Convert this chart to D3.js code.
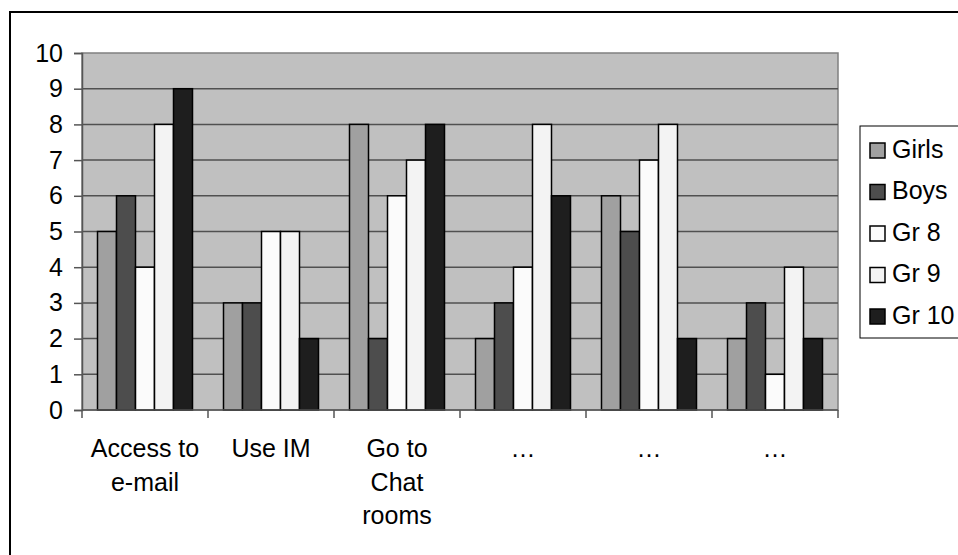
<!DOCTYPE html>
<html>
<head>
<meta charset="utf-8">
<script src="https://cdn.jsdelivr.net/npm/d3@7"></script>
<style>
  body { margin: 0; background: #fff; }
  svg { display: block; font-family: "Liberation Sans", Arial, sans-serif; }
</style>
</head>
<body>
<div id="chart"></div>
<script>
// data
const categories = [["Access to", "e-mail"], ["Use IM"], ["Go to", "Chat", "rooms"], ["…"], ["…"], ["…"]]
const seriesNames = ["Girls", "Boys", "Gr 8", "Gr 9", "Gr 10"]
const girls = [5, 3, 8, 2, 6, 2]
const boys = [6, 3, 2, 3, 5, 3]
const gr8 = [4, 5, 6, 4, 7, 1]
const gr9 = [8, 5, 7, 8, 8, 4]
const gr10 = [9, 2, 8, 6, 2, 2]
const yTicks = [0, 1, 2, 3, 4, 5, 6, 7, 8, 9, 10]

const seriesValues = [girls, boys, gr8, gr9, gr10]
const colors = ["#a0a0a0", "#4d4d4d", "#fbfbfb", "#f3f3f3", "#1e1e1e"]

const width = 958, height = 555
const plot = { left: 82, top: 53, right: 838, bottom: 410 }
const fontSize = 25

const svg = d3.select("#chart").append("svg")
  .attr("width", width)
  .attr("height", height)

// outer chart frame (runs off the right and bottom edges)
svg.append("rect")
  .attr("x", 10).attr("y", 12)
  .attr("width", 1000).attr("height", 600)
  .attr("fill", "#fff")
  .attr("stroke", "#000")
  .attr("stroke-width", 2)

const x0 = d3.scaleBand()
  .domain(d3.range(categories.length))
  .range([plot.left, plot.right])

const x1 = d3.scaleBand()
  .domain(d3.range(seriesNames.length))
  .range([0, x0.bandwidth()])
  .paddingOuter(0.816)

const y = d3.scaleLinear().domain([0, 10]).range([plot.bottom, plot.top])

// plot area
svg.append("rect")
  .attr("x", plot.left).attr("y", plot.top)
  .attr("width", plot.right - plot.left).attr("height", plot.bottom - plot.top)
  .attr("fill", "#c0c0c0")
  .attr("stroke", "#808080")
  .attr("stroke-width", 1.5)

// gridlines
svg.append("g").selectAll("line").data(yTicks.filter(d => d > 0 && d < 10))
  .enter().append("line")
  .attr("x1", plot.left).attr("x2", plot.right)
  .attr("y1", d => y(d)).attr("y2", d => y(d))
  .attr("stroke", "#505050")
  .attr("stroke-width", 1.5)

// bars
let groups = svg.append("g").selectAll("g").data(categories)
  .enter().append("g")
  .attr("transform", (d, i) => "translate(" + x0(i) + ",0)")

groups.selectAll("rect")
  .data((d, i) => seriesValues.map((s, j) => ({ s: j, v: s[i] })))
  .enter().append("rect")
  .attr("x", d => x1(d.s))
  .attr("width", x1.bandwidth())
  .attr("y", d => y(d.v))
  .attr("height", d => y(0) - y(d.v))
  .attr("fill", d => colors[d.s])
  .attr("stroke", "#000")
  .attr("stroke-width", 1.5)

// y axis
let yAxis = d3.axisLeft(y).tickValues(yTicks).tickSize(8).tickPadding(11)
let yg = svg.append("g")
  .attr("transform", "translate(" + plot.left + ",0)")
  .call(yAxis)
yg.select(".domain").attr("stroke", "#555").attr("stroke-width", 1.5)
yg.selectAll(".tick line").attr("stroke", "#555").attr("stroke-width", 1.5)
yg.selectAll("text").attr("font-size", fontSize).attr("fill", "#000")
  .attr("font-family", "Liberation Sans, Arial, sans-serif")

// x axis line with ticks at category boundaries
svg.append("line")
  .attr("x1", plot.left).attr("x2", plot.right)
  .attr("y1", plot.bottom).attr("y2", plot.bottom)
  .attr("stroke", "#555").attr("stroke-width", 1.5)

svg.append("g").selectAll("line").data(d3.range(categories.length + 1))
  .enter().append("line")
  .attr("x1", i => plot.left + i * x0.step())
  .attr("x2", i => plot.left + i * x0.step())
  .attr("y1", plot.bottom).attr("y2", plot.bottom + 8)
  .attr("stroke", "#555").attr("stroke-width", 1.5)

// category labels
let labels = svg.append("g").selectAll("text").data(categories)
  .enter().append("text")
  .attr("text-anchor", "middle")
  .attr("font-size", fontSize)
  .attr("transform", (d, i) => "translate(" + (x0(i) + x0.bandwidth() / 2) + ",457)")

labels.selectAll("tspan").data(d => d)
  .enter().append("tspan")
  .attr("x", 0)
  .attr("y", (d, i) => i * 33.5)
  .text(d => d)

// legend
let legend = svg.append("g").attr("transform", "translate(860,126)")
legend.append("rect")
  .attr("width", 120).attr("height", 212)
  .attr("fill", "#fff")
  .attr("stroke", "#000")
  .attr("stroke-width", 1)

let items = legend.selectAll(".item").data(seriesNames)
  .enter().append("g")
  .attr("class", "item")
  .attr("transform", (d, i) => "translate(0," + (24 + i * 41.5) + ")")

items.append("rect")
  .attr("x", 10).attr("y", -7)
  .attr("width", 15).attr("height", 15)
  .attr("fill", (d, i) => colors[i])
  .attr("stroke", "#000")
  .attr("stroke-width", 1.5)

items.append("text")
  .attr("x", 32)
  .attr("dy", "0.3em")
  .attr("font-size", fontSize)
  .text(d => d)
</script>
</body>
</html>
